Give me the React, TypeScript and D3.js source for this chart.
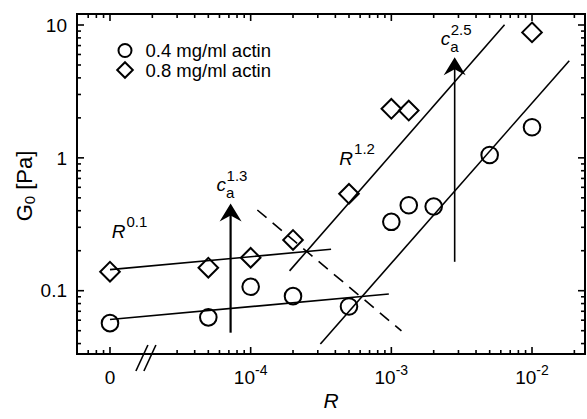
import React, { useEffect, useRef } from 'react'
import { select, scaleLog } from 'd3'

// "0" has no place on a log axis, it is drawn where 1e-5 would sit
const R_ZERO = 1e-5

// 0.4 mg/ml actin (circles)
const r04 = [0, 5e-5, 1e-4, 2e-4, 5e-4, 1e-3, 1.33e-3, 2e-3, 5e-3, 1e-2]
const g04 = [0.057, 0.063, 0.107, 0.091, 0.076, 0.33, 0.44, 0.43, 1.05, 1.7]

// 0.8 mg/ml actin (diamonds)
const r08 = [0, 5e-5, 1e-4, 2e-4, 5e-4, 1e-3, 1.33e-3, 1e-2]
const g08 = [0.139, 0.149, 0.177, 0.241, 0.536, 2.34, 2.27, 8.8]

// power-law guides, end points [R, G]
const fitR = [[0, 9.6e-4], [0, 3.73e-4], [1.89e-4, 6.38e-3], [3.13e-4, 0.0184]]
const fitG = [[0.0607, 0.0944], [0.144, 0.205], [0.141, 10.05], [0.0397, 5.39]]
const crossR = [1.115e-4, 1.18e-3]
const crossG = [0.405, 0.0498]

// slope labels R^p placed at [R, G]
const slopeText = ['0.1', '1.2']
const slopeR = [1.03e-5, 4.27e-4]
const slopeG = [0.248, 0.89]

// c_a arrows
const arrowR = [7.2e-5, 2.82e-3]
const arrowFrom = [0.0483, 0.165]
const arrowTo = [0.454, 5.71]
const arrowText = ['1.3', '2.5']

const legendText = ['0.4 mg/ml actin', '0.8 mg/ml actin']
const xMajor = [1e-5, 1e-4, 1e-3, 1e-2]
const xMajorExp = ['', '-4', '-3', '-2']
const yMajor = [0.1, 1, 10]
const yMajorText = ['0.1', '1', '10']

const FONT = '"Liberation Sans", Arial, Helvetica, sans-serif'

function Chart() {
  const ref = useRef(null)

  useEffect(() => {
    const W = 587, H = 419
    const left = 77, right = 585, top = 14, bottom = 354

    const svg = select(ref.current)
    svg.selectAll('*').remove()
    svg.attr('width', W).attr('height', H)

    // log scales set so that 1e-5..1e-2 lands on 110..532 and 0.1..10 on 290.7..25
    const xd = 140.7, yd = 132.85
    const x = scaleLog()
      .domain([Math.pow(10, -5 - (110 - left) / xd), Math.pow(10, -2 + (right - 532) / xd)])
      .range([left, right])
    const y = scaleLog()
      .domain([Math.pow(10, -1 - (bottom - 290.7) / yd), Math.pow(10, 1 + (25 - top) / yd)])
      .range([bottom, top])
    const px = r => x(r === 0 ? R_ZERO : r)

    const g = svg.append('g').attr('font-family', FONT).attr('fill', 'black')

    // ticks on all four sides
    const isMajor = v => Math.abs(Math.log10(v) - Math.round(Math.log10(v))) < 1e-6
    const xt = x.ticks().filter(v => x(v) > left + 3 && x(v) < right - 1)
    const yt = y.ticks().filter(v => y(v) < bottom - 2 && y(v) > top + 2)

    const breakLo = 1.25e-5, breakHi = 2.6e-5
    xt.forEach(v => {
      const len = isMajor(v) ? 7 : 4
      if (!(v > breakLo && v < breakHi)) {
        g.append('line').attr('x1', x(v)).attr('x2', x(v))
          .attr('y1', bottom).attr('y2', bottom - len)
          .attr('stroke', 'black').attr('stroke-width', 1.6)
      }
      g.append('line').attr('x1', x(v)).attr('x2', x(v))
        .attr('y1', top).attr('y2', top + len)
        .attr('stroke', 'black').attr('stroke-width', 1.6)
    })
    yt.forEach(v => {
      const len = isMajor(v) ? 7 : 4
      g.append('line').attr('x1', left).attr('x2', left + len)
        .attr('y1', y(v)).attr('y2', y(v))
        .attr('stroke', 'black').attr('stroke-width', 1.6)
      g.append('line').attr('x1', right).attr('x2', right - len)
        .attr('y1', y(v)).attr('y2', y(v))
        .attr('stroke', 'black').attr('stroke-width', 1.6)
    })

    g.append('rect')
      .attr('x', left).attr('y', top)
      .attr('width', right - left).attr('height', bottom - top)
      .attr('fill', 'none').attr('stroke', 'black').attr('stroke-width', 2)

    // axis break
    const bx = x(1.8e-5)
    ;[-4, 4].forEach(dx => {
      g.append('line')
        .attr('x1', bx + dx - 6).attr('y1', bottom + 17)
        .attr('x2', bx + dx + 6).attr('y2', bottom - 9)
        .attr('stroke', 'black').attr('stroke-width', 1.6)
    })

    // tick labels
    xMajor.forEach((v, i) => {
      const t = g.append('text')
        .attr('x', x(v)).attr('y', 383.5)
        .attr('text-anchor', 'middle').attr('font-size', 19)
      if (xMajorExp[i] === '') {
        t.text('0')
      } else {
        t.append('tspan').text('10')
        t.append('tspan').attr('dy', -9).attr('font-size', 14).text(xMajorExp[i])
      }
    })
    yMajor.forEach((v, i) => {
      g.append('text')
        .attr('x', 67).attr('y', y(v) + 6.7)
        .attr('text-anchor', 'end').attr('font-size', 19)
        .text(yMajorText[i])
    })

    // axis titles
    g.append('text')
      .attr('x', (left + right) / 2).attr('y', 408)
      .attr('text-anchor', 'middle').attr('font-size', 21)
      .attr('font-style', 'italic').text('R')
    const yl = g.append('text')
      .attr('transform', `translate(32, 186) rotate(-90)`)
      .attr('text-anchor', 'middle').attr('font-size', 22)
    yl.append('tspan').text('G')
    yl.append('tspan').attr('font-size', 15).attr('dy', 3).text('0')
    yl.append('tspan').attr('dy', -3).text(' [Pa]')

    // fitted lines
    fitR.forEach((rr, i) => {
      g.append('line')
        .attr('x1', px(rr[0])).attr('y1', y(fitG[i][0]))
        .attr('x2', px(rr[1])).attr('y2', y(fitG[i][1]))
        .attr('stroke', 'black').attr('stroke-width', 1.6)
    })
    g.append('line')
      .attr('x1', px(crossR[0])).attr('y1', y(crossG[0]))
      .attr('x2', px(crossR[1])).attr('y2', y(crossG[1]))
      .attr('stroke', 'black').attr('stroke-width', 1.6)
      .attr('stroke-dasharray', '12,8')

    // arrows
    arrowR.forEach((r, i) => {
      const ax = px(r), y0 = y(arrowFrom[i]), y1 = y(arrowTo[i])
      g.append('line')
        .attr('x1', ax).attr('x2', ax)
        .attr('y1', y0).attr('y2', y1 + 10)
        .attr('stroke', 'black').attr('stroke-width', i === 0 ? 2.2 : 1.6)
      g.append('path')
        .attr('d', `M${ax},${y1} L${ax + 11},${y1 + 18} L${ax},${y1 + 12} L${ax - 11},${y1 + 18} Z`)
        .attr('fill', 'black')
      const cx = ax - 14, cy = y1 - 12
      g.append('text').attr('x', cx).attr('y', cy)
        .attr('font-size', 19).attr('font-style', 'italic').text('c')
      g.append('text').attr('x', cx + 9.5).attr('y', cy + 7)
        .attr('font-size', 15).text('a')
      g.append('text').attr('x', cx + 10).attr('y', cy - 10)
        .attr('font-size', 15).text(arrowText[i])
    })

    // slope labels
    slopeText.forEach((s, i) => {
      const t = g.append('text')
        .attr('x', px(slopeR[i])).attr('y', y(slopeG[i]))
        .attr('font-size', 19)
      t.append('tspan').attr('font-style', 'italic').text('R')
      t.append('tspan').attr('dy', -11).attr('dx', 1).attr('font-size', 15).text(s)
    })

    // markers
    const diamond = (cx, cy, h) => `M${cx},${cy - h} L${cx + h},${cy} L${cx},${cy + h} L${cx - h},${cy} Z`
    r04.forEach((r, i) => {
      g.append('circle')
        .attr('cx', px(r)).attr('cy', y(g04[i])).attr('r', 8.3)
        .attr('fill', 'none').attr('stroke', 'black').attr('stroke-width', 2)
    })
    r08.forEach((r, i) => {
      g.append('path')
        .attr('d', diamond(px(r), y(g08[i]), 9.8))
        .attr('fill', 'none').attr('stroke', 'black').attr('stroke-width', 2)
        .attr('stroke-linejoin', 'miter')
    })

    // legend
    g.append('circle').attr('cx', 125).attr('cy', 50.5).attr('r', 6.5)
      .attr('fill', 'none').attr('stroke', 'black').attr('stroke-width', 2)
    g.append('path').attr('d', diamond(125, 70, 7.8))
      .attr('fill', 'none').attr('stroke', 'black').attr('stroke-width', 2)
    legendText.forEach((t, i) => {
      g.append('text').attr('x', 145.5).attr('y', 57.3 + i * 19.5)
        .attr('font-size', 18.5).text(t)
    })
  }, [])

  return <svg ref={ref} style={{ position: 'absolute', left: 0, top: 0 }}></svg>
}

export default function App() {
  return <Chart />
}
